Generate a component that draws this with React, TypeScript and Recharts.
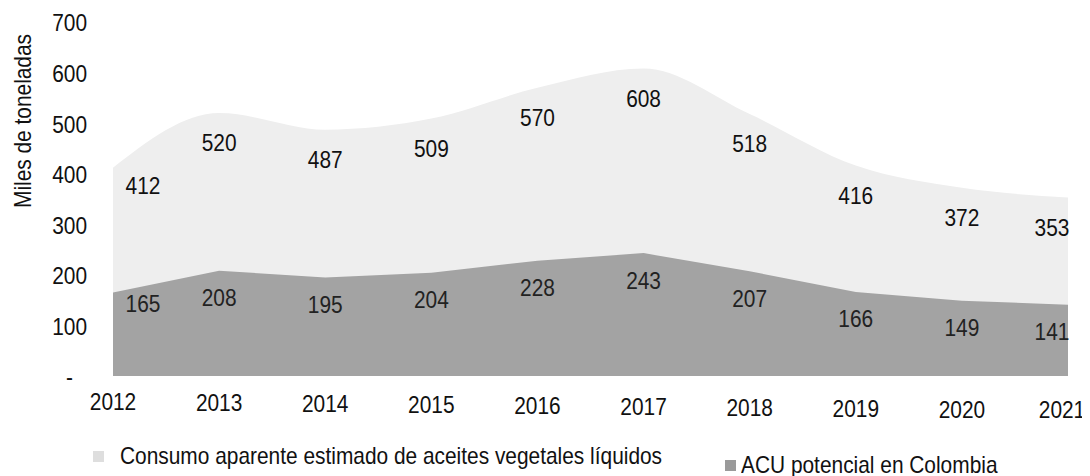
/**
 * ConsumoAceites — consumo aparente vs ACU potencial (miles de toneladas).
 */

import { AreaChart, Area, XAxis, YAxis, LabelList, Legend } from 'recharts';

const years = ['2012', '2013', '2014', '2015', '2016', '2017', '2018', '2019', '2020', '2021'];
const consumo = [412, 520, 487, 509, 570, 608, 518, 416, 372, 353];
const acu = [165, 208, 195, 204, 228, 243, 207, 166, 149, 141];
const yTicks = [0, 100, 200, 300, 400, 500, 600, 700];

const CONSUMO_NAME = 'Consumo aparente estimado de aceites vegetales líquidos';
const ACU_NAME = 'ACU potencial en Colombia';

const FONT = "'Liberation Sans', Arial, sans-serif";
const SQUEEZE = 0.87; // no narrow font installed, so squeeze horizontally
const LIGHT = '#eeeeee';
const DARK = '#a3a3a3';

const data = years.map((y, i) => ({ year: y, consumo: consumo[i], acu: acu[i] }));

// scanned page is slightly tilted: things on the right sit a few px lower
const tilt = (x: number) => ((x - 105) / 955) * 8;

function NarrowText({ x, y, anchor = 'middle', color = '#111', children }: any) {
  return (
    <text
      transform={`translate(${x},${y}) scale(${SQUEEZE},1)`}
      x={0}
      y={0}
      dy="0.35em"
      textAnchor={anchor}
      fill={color}
      fontSize={24}
      fontFamily={FONT}
    >
      {children}
    </text>
  );
}

function YTick(props: any) {
  const { x, y, payload } = props;
  const zero = payload.value === 0;
  return (
    <NarrowText x={zero ? x - 14 : x} y={y + 1} anchor="end">
      {zero ? '-' : payload.value}
    </NarrowText>
  );
}

function XTick(props: any) {
  const { x, y, payload, index } = props;
  const dx = index === years.length - 1 ? -6 : 0;
  return (
    <NarrowText x={x + dx} y={y + 1 + tilt(x)}>
      {payload.value}
    </NarrowText>
  );
}

function makeLabel(gap: number, firstGap: number, color: string) {
  return (props: any) => {
    const { x, y, value, index } = props;
    let dx = 0;
    let g = gap;
    if (index === 0) {
      dx = 30;
      g = firstGap;
    }
    if (index === years.length - 1) dx = -16;
    return (
      <NarrowText x={x + dx} y={y + g} color={color}>
        {value}
      </NarrowText>
    );
  };
}

function LegendBox() {
  const item = (left: number, top: number, color: string, text: string, gap: number) => (
    <div
      style={{
        position: 'absolute',
        left,
        top,
        display: 'flex',
        alignItems: 'center',
        whiteSpace: 'nowrap',
      }}
    >
      <span style={{ width: 11, height: 11, background: color, marginRight: gap }} />
      <span
        style={{
          fontSize: 24,
          color: '#111',
          fontFamily: FONT,
          display: 'inline-block',
          transform: `scaleX(${SQUEEZE})`,
          transformOrigin: 'left center',
        }}
      >
        {text}
      </span>
    </div>
  );
  return (
    <div style={{ position: 'relative', height: 30 }}>
      {item(85, 0, '#dedede', CONSUMO_NAME, 16)}
      {item(717, 9, '#9a9a9a', ACU_NAME, 5)}
    </div>
  );
}

export default function App() {
  return (
    <AreaChart
      width={1082}
      height={470}
      data={data}
      margin={{ top: 14, right: 22, left: 0, bottom: 6 }}
    >
      <XAxis
        dataKey="year"
        axisLine={false}
        tickLine={false}
        tickSize={0}
        tickMargin={25}
        height={66}
        interval={0}
        tick={<XTick />}
      />
      <YAxis
        domain={[0, 700]}
        ticks={yTicks}
        axisLine={false}
        tickLine={false}
        tickSize={0}
        tickMargin={26}
        width={105}
        tick={<YTick />}
        label={{
          content: () => (
            <text
              transform={`translate(15,113) rotate(-90) scale(${SQUEEZE},1)`}
              textAnchor="middle"
              dominantBaseline="central"
              fill="#111"
              fontSize={24}
              fontFamily={FONT}
            >
              Miles de toneladas
            </text>
          ),
        }}
      />
      <Legend verticalAlign="bottom" content={() => <LegendBox />} wrapperStyle={{ height: 30 }} />
      <Area
        type="monotone"
        dataKey="consumo"
        name={CONSUMO_NAME}
        stroke="none"
        fill={LIGHT}
        fillOpacity={1}
        isAnimationActive={false}
      >
        <LabelList dataKey="consumo" content={makeLabel(30, 18, '#111')} />
      </Area>
      <Area
        type="linear"
        dataKey="acu"
        name={ACU_NAME}
        stroke="none"
        fill={DARK}
        fillOpacity={1}
        isAnimationActive={false}
      >
        <LabelList dataKey="acu" content={makeLabel(27, 11, '#222')} />
      </Area>
    </AreaChart>
  );
}
